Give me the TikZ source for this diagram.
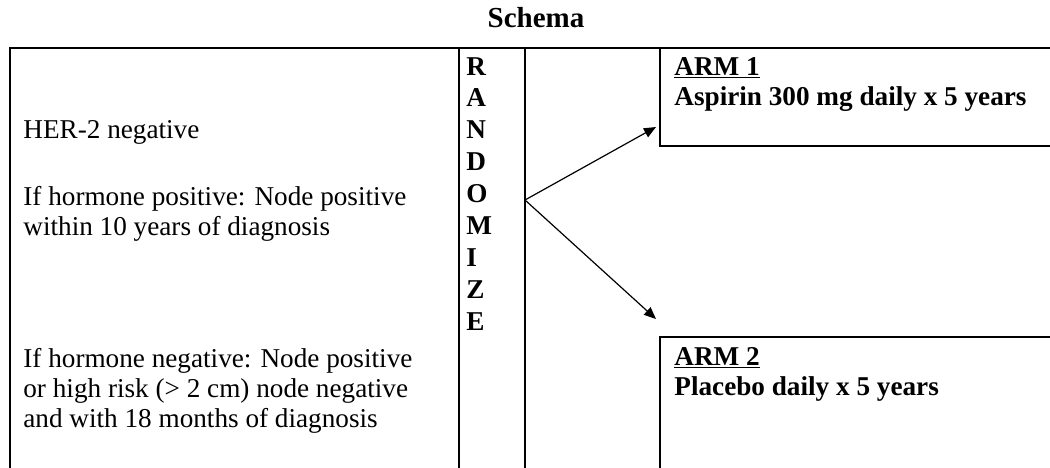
\documentclass[tikz,border=0pt]{standalone}
\usepackage{fontspec}
\setmainfont{Liberation Serif}
\usetikzlibrary{arrows.meta}
\begin{document}
\begin{tikzpicture}[x=0.5pt,y=-0.5pt,
  frame/.style={line width=1pt, line cap=rect},
  conn/.style={line width=0.6pt, -{Triangle[length=6pt,width=5pt]}},
  txt/.style={font=\fontsize{13.6}{15}\selectfont, inner sep=0pt, anchor=base west},
  btxt/.style={txt, font=\fontsize{13.6}{15}\selectfont\bfseries}]
\useasboundingbox (0,0) rectangle (1050,467);
\clip (0,0) rectangle (1050,467);
% frame lines
\draw[frame] (10,475) -- (10,48) -- (1060,48);
\draw[frame] (459,48) -- (459,475);
\draw[frame] (525,48) -- (525,475);
\draw[frame] (660,48) -- (660,146) -- (1060,146);
\draw[frame] (660,475) -- (660,337) -- (1060,337);
% title
\node[btxt, anchor=base, font=\fontsize{14.5}{15}\selectfont\bfseries] (title) at (536,27) {Schema};
% eligibility text
\node[txt] (l1) at (23,138) {HER-2 negative};
\node[txt] (l2) at (23,205) {If hormone positive: Node positive};
\node[txt] (l3) at (23,235) {within 10 years of diagnosis};
\node[txt] (l4) at (23,367) {If hormone negative: Node positive};
\node[txt] (l5) at (23,397) {or high risk (> 2 cm) node negative};
\node[txt] (l6) at (23,427) {and with 18 months of diagnosis};
% randomize
\foreach \c [count=\i from 0] in {R,A,N,D,O,M,I,Z,E}
  \node[btxt] (r\i) at (466,75+31.9*\i) {\c};
% arms
\node[btxt] (a1h) at (674,75) {\underline{ARM 1}};
\node[btxt] (a1t) at (674,105) {Aspirin 300 mg daily x 5 years};
\node[btxt] (a2h) at (674,365) {\underline{ARM 2}};
\node[btxt] (a2t) at (674,395) {Placebo daily x 5 years};
% arrows
\coordinate (rz) at (525,200);
\coordinate (t1) at (656,127);
\coordinate (t2) at (656,319);
\draw[conn] (rz) -- (t1);
\draw[conn] (rz) -- (t2);
\end{tikzpicture}
\end{document}
